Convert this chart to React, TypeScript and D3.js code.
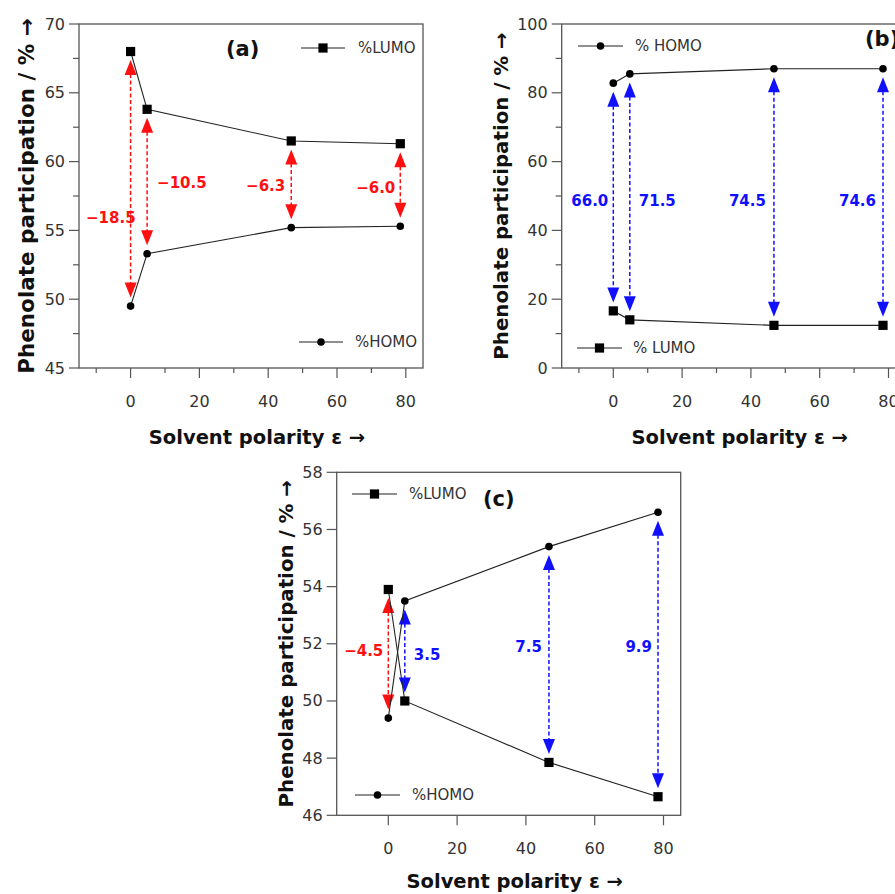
import React from "react";
import * as d3 from "d3";

// ---------- data ----------
const epsilon = [0, 4.8, 46.7, 78.4];

const lumoA = [68.0, 63.8, 61.5, 61.3];
const homoA = [49.5, 53.3, 55.2, 55.3];
const deltaA = ["−18.5", "−10.5", "−6.3", "−6.0"];

const homoB = [82.8, 85.5, 87.0, 87.0];
const lumoB = [16.6, 14.0, 12.4, 12.4];
const deltaB = ["66.0", "71.5", "74.5", "74.6"];

const lumoC = [53.9, 50.0, 47.85, 46.65];
const homoC = [49.4, 53.5, 55.4, 56.6];
const deltaC = ["−4.5", "3.5", "7.5", "9.9"];

const xTicks = [0, 20, 40, 60, 80];
const xMinorAB = [-10, 10, 30, 50, 70];
const yTicksA = [45, 50, 55, 60, 65, 70];
const yMinorA = [47.5, 52.5, 57.5, 62.5, 67.5];
const yTicksB = [0, 20, 40, 60, 80, 100];
const yMinorB = [10, 30, 50, 70, 90];
const yTicksC = [46, 48, 50, 52, 54, 56, 58];

const RED = "#ff1010";
const BLUE = "#1010ff";
const FONT = "'DejaVu Sans', Verdana, sans-serif";

type Legend = { kind: "square" | "circle"; text: string; x1: number; x2: number; y: number; tx: number };
type LabelPos = { anchor: "start" | "end"; dx: number; y: number };

type PanelCfg = {
  left: number;
  top: number;
  w: number;
  h: number;
  yDomain: [number, number];
  yTicks: number[];
  yMinor: number[];
  xMinor: number[];
  top1: number[];
  bottom1: number[];
  upperKind: "square" | "circle";
  labels: string[];
  colors: string[];
  labelPos: LabelPos[];
  legends: Legend[];
  tag: string;
  tagX: number;
  tagY: number;
  yLabelX: number;
  yLabelSize: number;
  xLabelDy: number;
};

const panels: PanelCfg[] = [
  {
    left: 79, top: 24, w: 344, h: 344,
    yDomain: [45, 70], yTicks: yTicksA, yMinor: yMinorA, xMinor: xMinorAB,
    top1: lumoA, bottom1: homoA, upperKind: "square",
    labels: deltaA, colors: [RED, RED, RED, RED],
    labelPos: [
      { anchor: "end", dx: 5, y: 55.9 },
      { anchor: "start", dx: 10, y: 58.45 },
      { anchor: "end", dx: -6, y: 58.2 },
      { anchor: "end", dx: -5, y: 58.1 },
    ],
    legends: [
      { kind: "square", text: "%LUMO", x1: 301, x2: 345, y: 48, tx: 358 },
      { kind: "circle", text: "%HOMO", x1: 299, x2: 343, y: 342, tx: 355 },
    ],
    tag: "(a)", tagX: 226, tagY: 49, yLabelX: 26, yLabelSize: 21.5, xLabelDy: 69,
  },
  {
    left: 561.7, top: 24, w: 344, h: 344,
    yDomain: [0, 100], yTicks: yTicksB, yMinor: yMinorB, xMinor: xMinorAB,
    top1: homoB, bottom1: lumoB, upperKind: "circle",
    labels: deltaB, colors: [BLUE, BLUE, BLUE, BLUE],
    labelPos: [
      { anchor: "end", dx: -5, y: 48.5 },
      { anchor: "start", dx: 9, y: 48.5 },
      { anchor: "end", dx: -8, y: 48.5 },
      { anchor: "end", dx: -7, y: 48.5 },
    ],
    legends: [
      { kind: "circle", text: "% HOMO", x1: 578, x2: 623, y: 46, tx: 635 },
      { kind: "square", text: "% LUMO", x1: 577, x2: 622, y: 348, tx: 633 },
    ],
    tag: "(b)", tagX: 865, tagY: 39, yLabelX: 501, yLabelSize: 19.8, xLabelDy: 69,
  },
  {
    left: 336.7, top: 472.3, w: 344, h: 343,
    yDomain: [46, 58], yTicks: yTicksC, yMinor: [], xMinor: [],
    top1: lumoC, bottom1: homoC, upperKind: "square",
    labels: deltaC, colors: [RED, BLUE, BLUE, BLUE],
    labelPos: [
      { anchor: "end", dx: -5, y: 51.76 },
      { anchor: "start", dx: 9, y: 51.6 },
      { anchor: "end", dx: -7, y: 51.9 },
      { anchor: "end", dx: -6, y: 51.9 },
    ],
    legends: [
      { kind: "square", text: "%LUMO", x1: 352, x2: 397, y: 494, tx: 409 },
      { kind: "circle", text: "%HOMO", x1: 355, x2: 400, y: 795, tx: 412 },
    ],
    tag: "(c)", tagX: 483, tagY: 499, yLabelX: 286, yLabelSize: 19.8, xLabelDy: 66.5,
  },
];

function Marker({ kind, x, y }: { kind: "square" | "circle"; x: number; y: number }) {
  if (kind === "square") return <rect x={x - 4.6} y={y - 4.6} width={9.2} height={9.2} fill="#000" />;
  return <circle cx={x} cy={y} r={3.8} fill="#000" />;
}

function Arrow({ x, y1, y2, color }: { x: number; y1: number; y2: number; color: string }) {
  const hl = 15;
  const hw = 6;
  return (
    <g>
      <line x1={x} x2={x} y1={y1 + hl - 1} y2={y2 - hl + 1} stroke={color} strokeWidth={1.5} strokeDasharray="4 2.5" />
      <path d={`M${x},${y1} L${x - hw},${y1 + hl} L${x + hw},${y1 + hl} Z`} fill={color} />
      <path d={`M${x},${y2} L${x - hw},${y2 - hl} L${x + hw},${y2 - hl} Z`} fill={color} />
    </g>
  );
}

function Panel({ cfg }: { cfg: PanelCfg }) {
  const x = d3.scaleLinear().domain([-15, 85]).range([cfg.left, cfg.left + cfg.w]);
  const y = d3.scaleLinear().domain(cfg.yDomain).range([cfg.top + cfg.h, cfg.top]);
  const bottom = cfg.top + cfg.h;
  const lowerKind = cfg.upperKind === "square" ? "circle" : "square";
  const line = d3
    .line<number>()
    .x((_, i) => x(epsilon[i]))
    .y((d) => y(d));
  const gap = 8.5;
  const axisColor = "#555";
  const textColor = "#333";
  return (
    <g fontFamily={FONT}>
      {epsilon.map((e, i) => {
        const a = y(cfg.top1[i]);
        const b = y(cfg.bottom1[i]);
        const yTop = Math.min(a, b) + gap;
        const yBot = Math.max(a, b) - gap;
        return <Arrow key={"ar" + i} x={x(e)} y1={yTop} y2={yBot} color={cfg.colors[i]} />;
      })}
      <path d={line(cfg.top1) || ""} fill="none" stroke="#222" strokeWidth={1.1} />
      <path d={line(cfg.bottom1) || ""} fill="none" stroke="#222" strokeWidth={1.1} />
      {cfg.top1.map((v, i) => (
        <Marker key={"t" + i} kind={cfg.upperKind} x={x(epsilon[i])} y={y(v)} />
      ))}
      {cfg.bottom1.map((v, i) => (
        <Marker key={"b" + i} kind={lowerKind} x={x(epsilon[i])} y={y(v)} />
      ))}
      {cfg.labels.map((t, i) => (
        <text
          key={"l" + i}
          x={x(epsilon[i]) + cfg.labelPos[i].dx}
          y={y(cfg.labelPos[i].y)}
          textAnchor={cfg.labelPos[i].anchor}
          dominantBaseline="central"
          fontWeight="bold"
          fontSize={15}
          fill={cfg.colors[i]}
        >
          {t}
        </text>
      ))}
      <rect x={cfg.left} y={cfg.top} width={cfg.w} height={cfg.h} fill="none" stroke={axisColor} strokeWidth={1.3} />
      {cfg.yTicks.map((t) => (
        <g key={"yt" + t}>
          <line x1={cfg.left - 10} x2={cfg.left} y1={y(t)} y2={y(t)} stroke={axisColor} strokeWidth={1.2} />
          <text x={cfg.left - 14} y={y(t)} textAnchor="end" dominantBaseline="central" fontSize={16} fill={textColor}>
            {t}
          </text>
        </g>
      ))}
      {cfg.yMinor.map((t) => (
        <line key={"ym" + t} x1={cfg.left - 6} x2={cfg.left} y1={y(t)} y2={y(t)} stroke={axisColor} strokeWidth={1.2} />
      ))}
      {xTicks.map((t) => (
        <g key={"xt" + t}>
          <line x1={x(t)} x2={x(t)} y1={bottom} y2={bottom + 10} stroke={axisColor} strokeWidth={1.2} />
          <text x={x(t)} y={bottom + 33} textAnchor="middle" dominantBaseline="central" fontSize={16} fill={textColor}>
            {t}
          </text>
        </g>
      ))}
      {cfg.xMinor.map((t) => (
        <line key={"xm" + t} x1={x(t)} x2={x(t)} y1={bottom} y2={bottom + 5} stroke={axisColor} strokeWidth={1.2} />
      ))}
      {cfg.legends.map((l, i) => (
        <g key={"lg" + i}>
          <line x1={l.x1} x2={l.x2} y1={l.y} y2={l.y} stroke="#222" strokeWidth={1.1} />
          <Marker kind={l.kind} x={(l.x1 + l.x2) / 2} y={l.y} />
          <text x={l.tx} y={l.y} dominantBaseline="central" fontSize={15} fill={textColor}>
            {l.text}
          </text>
        </g>
      ))}
      <text x={cfg.tagX} y={cfg.tagY} dominantBaseline="central" fontWeight="bold" fontSize={21} fill="#111">
        {cfg.tag}
      </text>
      <text
        x={cfg.left + cfg.w / 2 + 6}
        y={bottom + cfg.xLabelDy}
        textAnchor="middle"
        dominantBaseline="central"
        fontWeight="bold"
        fontSize={19.5}
        fill="#111"
      >
        Solvent polarity ε →
      </text>
      <text
        transform={`translate(${cfg.yLabelX},${cfg.top + cfg.h / 2}) rotate(-90)`}
        textAnchor="middle"
        dominantBaseline="central"
        fontWeight="bold"
        fontSize={cfg.yLabelSize}
        fill="#111"
      >
        Phenolate participation / % →
      </text>
    </g>
  );
}

export default function App() {
  return (
    <svg
      width={895}
      height={894}
      style={{ position: "absolute", left: 0, top: 0, background: "#fff" }}
    >
      <rect width={895} height={894} fill="#fff" />
      {panels.map((p, i) => (
        <Panel key={i} cfg={p} />
      ))}
    </svg>
  );
}
